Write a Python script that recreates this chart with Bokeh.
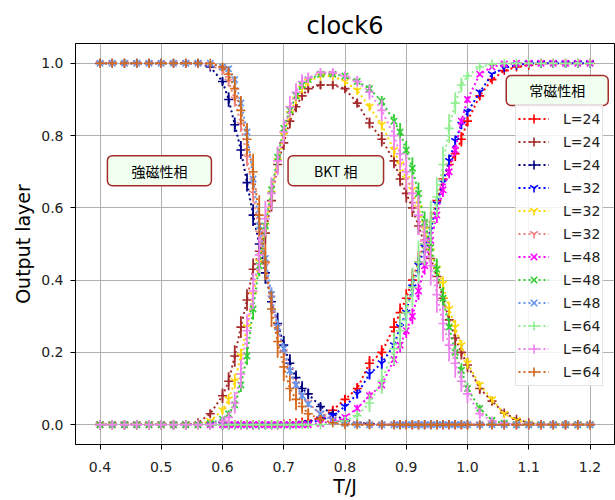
from bokeh.plotting import figure
from bokeh.models import (ColumnDataSource, Legend, LegendItem, Label, FixedTicker,
                          NumeralTickFormatter)
from bokeh.embed import file_html
from bokeh.resources import INLINE

# Temperature grid (T/J)
T = [0.40, 0.42, 0.44, 0.46, 0.48, 0.50, 0.52, 0.54, 0.56, 0.58,
     0.60, 0.61, 0.62, 0.63, 0.64, 0.65, 0.66, 0.67, 0.68, 0.69, 0.70, 0.71, 0.72, 0.73, 0.74,
     0.76, 0.78, 0.80, 0.82, 0.84, 0.86, 0.88,
     0.89, 0.90, 0.91, 0.92, 0.93, 0.94, 0.95, 0.96, 0.97, 0.98, 0.99, 1.00,
     1.02, 1.04, 1.06, 1.08, 1.10, 1.12, 1.14, 1.16, 1.18, 1.20]

# ---- L = 24 ----
y24_para = [0, 0, 0, 0, 0, 0, 0, 0, 0, 0,
            0, 0, 0, 0, 0, 0, 0, 0, 0, 0, 0.002, 0.003, 0.005, 0.007, 0.01,
            0.02, 0.04, 0.07, 0.10, 0.17, 0.20, 0.27,
            0.31, 0.35, 0.40, 0.45, 0.51, 0.56, 0.62, 0.68, 0.72, 0.75, 0.79, 0.84,
            0.91, 0.955, 0.98, 0.99, 0.995, 1.0, 1.0, 1.0, 1.0, 1.0]
e24_para = [0, 0, 0, 0, 0, 0, 0, 0, 0, 0,
            0, 0, 0, 0, 0, 0, 0, 0, 0, 0, 0.002, 0.002, 0.003, 0.004, 0.005,
            0.008, 0.01, 0.012, 0.015, 0.02, 0.02, 0.025,
            0.025, 0.025, 0.03, 0.03, 0.03, 0.03, 0.03, 0.025, 0.025, 0.02, 0.02, 0.015,
            0.01, 0.006, 0.004, 0.002, 0.001, 0, 0, 0, 0, 0]
y24_bkt = [0, 0, 0, 0, 0, 0, 0, 0, 0.005, 0.03,
           0.08, 0.12, 0.19, 0.27, 0.345, 0.43, 0.48, 0.53, 0.62, 0.72, 0.78, 0.84, 0.88, 0.91, 0.93,
           0.94, 0.94, 0.93, 0.89, 0.835, 0.79, 0.73,
           0.68, 0.64, 0.60, 0.55, 0.50, 0.46, 0.41, 0.35, 0.29, 0.24, 0.20, 0.165,
           0.10, 0.065, 0.032, 0.015, 0.005, 0, 0, 0, 0, 0]
e24_bkt = [0, 0, 0, 0, 0, 0, 0, 0, 0.005, 0.01,
           0.02, 0.025, 0.03, 0.03, 0.03, 0.03, 0.03, 0.03, 0.03, 0.025, 0.02, 0.02, 0.015, 0.012, 0.01,
           0.01, 0.01, 0.01, 0.012, 0.015, 0.02, 0.02,
           0.02, 0.025, 0.025, 0.025, 0.03, 0.03, 0.03, 0.03, 0.025, 0.025, 0.02, 0.02,
           0.015, 0.01, 0.008, 0.005, 0.002, 0, 0, 0, 0, 0]
y24_ferro = [1, 1, 1, 1, 1, 1, 1, 1, 1.0, 0.99,
             0.95, 0.90, 0.83, 0.76, 0.67, 0.58, 0.50, 0.42, 0.34, 0.28, 0.22, 0.17, 0.13, 0.10, 0.085,
             0.05, 0.03, 0.012, 0.005, 0.002, 0, 0,
             0, 0, 0, 0, 0, 0, 0, 0, 0, 0, 0, 0,
             0, 0, 0, 0, 0, 0, 0, 0, 0, 0]
e24_ferro = [0, 0, 0, 0, 0, 0, 0, 0, 0, 0.005,
             0.01, 0.02, 0.02, 0.025, 0.025, 0.03, 0.03, 0.03, 0.03, 0.03, 0.025, 0.025, 0.02, 0.02, 0.015,
             0.01, 0.008, 0.004, 0.002, 0, 0, 0,
             0, 0, 0, 0, 0, 0, 0, 0, 0, 0, 0, 0,
             0, 0, 0, 0, 0, 0, 0, 0, 0, 0]

# ---- L = 32 ----
y32_para = [0, 0, 0, 0, 0, 0, 0, 0, 0, 0,
            0, 0, 0, 0, 0, 0, 0, 0, 0, 0, 0, 0, 0.002, 0.003, 0.005,
            0.012, 0.025, 0.05, 0.085, 0.14, 0.17, 0.22,
            0.27, 0.31, 0.38, 0.44, 0.49, 0.54, 0.61, 0.67, 0.73, 0.785, 0.83, 0.865,
            0.92, 0.97, 0.987, 0.995, 1.0, 1.0, 1.0, 1.0, 1.0, 1.0]
e32_para = [0, 0, 0, 0, 0, 0, 0, 0, 0, 0,
            0, 0, 0, 0, 0, 0, 0, 0, 0, 0, 0, 0, 0.001, 0.002, 0.003,
            0.005, 0.008, 0.01, 0.012, 0.015, 0.018, 0.02,
            0.02, 0.022, 0.025, 0.025, 0.025, 0.025, 0.022, 0.02, 0.018, 0.015, 0.012, 0.01,
            0.008, 0.004, 0.002, 0.001, 0, 0, 0, 0, 0, 0]
y32_bkt = [0, 0, 0, 0, 0, 0, 0, 0, 0, 0.01,
           0.04, 0.07, 0.12, 0.19, 0.27, 0.36, 0.45, 0.55, 0.64, 0.73, 0.80, 0.86, 0.90, 0.93, 0.95,
           0.965, 0.965, 0.95, 0.925, 0.88, 0.83, 0.76,
           0.72, 0.68, 0.65, 0.60, 0.54, 0.48, 0.43, 0.39, 0.32, 0.27, 0.22, 0.17,
           0.11, 0.07, 0.03, 0.012, 0.004, 0, 0, 0, 0, 0]
e32_bkt = [0, 0, 0, 0, 0, 0, 0, 0, 0, 0.005,
           0.01, 0.015, 0.02, 0.02, 0.025, 0.025, 0.025, 0.025, 0.02, 0.02, 0.015, 0.012, 0.01, 0.008, 0.006,
           0.005, 0.005, 0.006, 0.008, 0.01, 0.015, 0.02,
           0.02, 0.02, 0.025, 0.025, 0.025, 0.025, 0.025, 0.02, 0.02, 0.02, 0.015, 0.015,
           0.01, 0.008, 0.005, 0.003, 0.001, 0, 0, 0, 0, 0]
y32_ferro = [1, 1, 1, 1, 1, 1, 1, 1, 1, 0.995,
             0.98, 0.95, 0.90, 0.83, 0.74, 0.64, 0.53, 0.44, 0.35, 0.27, 0.20, 0.15, 0.11, 0.08, 0.06,
             0.03, 0.015, 0.005, 0.002, 0, 0, 0,
             0, 0, 0, 0, 0, 0, 0, 0, 0, 0, 0, 0,
             0, 0, 0, 0, 0, 0, 0, 0, 0, 0]
e32_ferro = [0, 0, 0, 0, 0, 0, 0, 0, 0, 0.003,
             0.01, 0.015, 0.02, 0.02, 0.025, 0.025, 0.025, 0.025, 0.02, 0.02, 0.02, 0.015, 0.015, 0.01, 0.01,
             0.008, 0.005, 0.002, 0, 0, 0, 0,
             0, 0, 0, 0, 0, 0, 0, 0, 0, 0, 0, 0,
             0, 0, 0, 0, 0, 0, 0, 0, 0, 0]

# ---- L = 48 ----
y48_para = [0, 0, 0, 0, 0, 0, 0, 0, 0, 0,
            0, 0, 0, 0, 0, 0, 0, 0, 0, 0, 0, 0, 0, 0, 0,
            0.003, 0.01, 0.02, 0.045, 0.08, 0.11, 0.18,
            0.22, 0.26, 0.30, 0.37, 0.44, 0.51, 0.58, 0.65, 0.70, 0.76, 0.84, 0.90,
            0.97, 0.99, 0.998, 1.0, 1.0, 1.0, 1.0, 1.0, 1.0, 1.0]
e48_para = [0, 0, 0, 0, 0, 0, 0, 0, 0, 0,
            0, 0, 0, 0, 0, 0, 0, 0, 0, 0, 0, 0, 0, 0, 0,
            0.002, 0.004, 0.006, 0.01, 0.012, 0.015, 0.018,
            0.02, 0.02, 0.022, 0.025, 0.025, 0.025, 0.022, 0.02, 0.018, 0.015, 0.01, 0.008,
            0.004, 0.002, 0, 0, 0, 0, 0, 0, 0, 0]
y48_bkt = [0, 0, 0, 0, 0, 0, 0, 0, 0, 0.003,
           0.015, 0.03, 0.055, 0.11, 0.19, 0.32, 0.44, 0.55, 0.65, 0.74, 0.82, 0.87, 0.91, 0.94, 0.955,
           0.97, 0.97, 0.965, 0.95, 0.93, 0.895, 0.84,
           0.81, 0.76, 0.71, 0.64, 0.56, 0.49, 0.43, 0.35, 0.27, 0.20, 0.15, 0.10,
           0.045, 0.012, 0.004, 0, 0, 0, 0, 0, 0, 0]
e48_bkt = [0, 0, 0, 0, 0, 0, 0, 0, 0, 0.002,
           0.005, 0.01, 0.015, 0.02, 0.025, 0.03, 0.03, 0.03, 0.03, 0.025, 0.02, 0.015, 0.012, 0.01, 0.008,
           0.006, 0.006, 0.007, 0.01, 0.012, 0.015, 0.02,
           0.025, 0.025, 0.03, 0.03, 0.03, 0.03, 0.03, 0.03, 0.025, 0.02, 0.02, 0.015,
           0.01, 0.005, 0.002, 0, 0, 0, 0, 0, 0, 0]
y48_ferro = [1, 1, 1, 1, 1, 1, 1, 1, 1, 1,
             0.99, 0.985, 0.955, 0.89, 0.81, 0.68, 0.55, 0.46, 0.36, 0.27, 0.21, 0.15, 0.11, 0.08, 0.057,
             0.03, 0.012, 0.003, 0, 0, 0, 0,
             0, 0, 0, 0, 0, 0, 0, 0, 0, 0, 0, 0,
             0, 0, 0, 0, 0, 0, 0, 0, 0, 0]
e48_ferro = [0, 0, 0, 0, 0, 0, 0, 0, 0, 0,
             0.005, 0.008, 0.01, 0.015, 0.02, 0.02, 0.02, 0.02, 0.02, 0.02, 0.015, 0.015, 0.01, 0.01, 0.008,
             0.005, 0.003, 0, 0, 0, 0, 0,
             0, 0, 0, 0, 0, 0, 0, 0, 0, 0, 0, 0,
             0, 0, 0, 0, 0, 0, 0, 0, 0, 0]

# ---- L = 64 ----
y64_para = [0, 0, 0, 0, 0, 0, 0, 0, 0, 0,
            0, 0, 0, 0, 0, 0, 0, 0, 0, 0, 0, 0, 0, 0, 0,
            0, 0.005, 0.01, 0.025, 0.06, 0.12, 0.21,
            0.26, 0.31, 0.38, 0.45, 0.50, 0.56, 0.63, 0.72, 0.82, 0.89, 0.94, 0.965,
            0.99, 0.998, 1.0, 1.0, 1.0, 1.0, 1.0, 1.0, 1.0, 1.0]
e64_para = [0, 0, 0, 0, 0, 0, 0, 0, 0, 0,
            0, 0, 0, 0, 0, 0, 0, 0, 0, 0, 0, 0, 0, 0, 0,
            0.002, 0.005, 0.01, 0.015, 0.025, 0.035, 0.045,
            0.05, 0.05, 0.055, 0.06, 0.06, 0.06, 0.055, 0.05, 0.04, 0.03, 0.02, 0.012,
            0.005, 0.002, 0, 0, 0, 0, 0, 0, 0, 0]
y64_bkt = [0, 0, 0, 0, 0, 0, 0, 0, 0, 0,
           0.01, 0.02, 0.06, 0.14, 0.26, 0.37, 0.47, 0.57, 0.64, 0.73, 0.81, 0.88, 0.92, 0.95, 0.96,
           0.975, 0.975, 0.965, 0.95, 0.92, 0.87, 0.80,
           0.75, 0.70, 0.64, 0.58, 0.51, 0.44, 0.36, 0.28, 0.22, 0.17, 0.12, 0.085,
           0.03, 0.01, 0.003, 0, 0, 0, 0, 0, 0, 0]
e64_bkt = [0, 0, 0, 0, 0, 0, 0, 0, 0, 0,
           0.01, 0.015, 0.03, 0.04, 0.045, 0.05, 0.05, 0.05, 0.045, 0.04, 0.035, 0.03, 0.025, 0.02, 0.015,
           0.01, 0.01, 0.012, 0.015, 0.02, 0.03, 0.04,
           0.045, 0.05, 0.05, 0.055, 0.055, 0.055, 0.05, 0.05, 0.045, 0.04, 0.03, 0.025,
           0.015, 0.008, 0.003, 0, 0, 0, 0, 0, 0, 0]
y64_ferro = [1, 1, 1, 1, 1, 1, 1, 1, 1, 1,
             0.99, 0.97, 0.93, 0.87, 0.79, 0.70, 0.58, 0.45, 0.32, 0.23, 0.16, 0.10, 0.07, 0.05, 0.03,
             0.015, 0.005, 0, 0, 0, 0, 0,
             0, 0, 0, 0, 0, 0, 0, 0, 0, 0, 0, 0,
             0, 0, 0, 0, 0, 0, 0, 0, 0, 0]
e64_ferro = [0, 0, 0, 0, 0, 0, 0, 0, 0, 0,
             0.01, 0.02, 0.035, 0.04, 0.045, 0.05, 0.055, 0.05, 0.05, 0.045, 0.04, 0.035, 0.03, 0.02, 0.015,
             0.01, 0.005, 0, 0, 0, 0, 0,
             0, 0, 0, 0, 0, 0, 0, 0, 0, 0, 0, 0,
             0, 0, 0, 0, 0, 0, 0, 0, 0, 0]

labels = ["L=24", "L=24", "L=24", "L=32", "L=32", "L=32",
          "L=48", "L=48", "L=48", "L=64", "L=64", "L=64"]
colors = ["red", "brown", "navy", "blue", "gold", "lightcoral",
          "magenta", "limegreen", "cornflowerblue", "lightgreen", "violet", "chocolate"]
markers = ["cross", "cross", "cross", "y", "y", "y",
           "x", "x", "x", "cross", "cross", "cross"]
ys = [y24_para, y24_bkt, y24_ferro, y32_para, y32_bkt, y32_ferro,
      y48_para, y48_bkt, y48_ferro, y64_para, y64_bkt, y64_ferro]
errs = [e24_para, e24_bkt, e24_ferro, e32_para, e32_bkt, e32_ferro,
        e48_para, e48_bkt, e48_ferro, e64_para, e64_bkt, e64_ferro]

FONT = "DejaVu Sans"
CJK = "Noto Sans CJK JP"

p = figure(width=615, height=500, x_range=(0.36, 1.24), y_range=(-0.055, 1.055),
           output_backend="svg", toolbar_location=None,
           min_border_left=75, min_border_right=1, min_border_top=43, min_border_bottom=56)

p.title.text = "clock6"
p.title.align = "center"
p.title.text_font = FONT
p.title.text_font_size = "24px"
p.title.text_font_style = "normal"
p.title.text_color = "black"
p.title.standoff = 7

p.background_fill_color = "white"
p.border_fill_color = "white"
p.outline_line_color = "black"
p.outline_line_width = 1
p.outline_line_alpha = 1

p.xaxis.ticker = FixedTicker(ticks=[0.4, 0.5, 0.6, 0.7, 0.8, 0.9, 1.0, 1.1, 1.2])
p.yaxis.ticker = FixedTicker(ticks=[0.0, 0.2, 0.4, 0.6, 0.8, 1.0])
for ax in (p.xaxis, p.yaxis):
    ax.formatter = NumeralTickFormatter(format="0.0")
    ax.minor_tick_line_color = None
    ax.major_tick_in = 0
    ax.major_tick_out = 5
    ax.major_tick_line_color = "black"
    ax.axis_line_color = "black"
    ax.major_label_text_font = FONT
    ax.major_label_text_font_size = "14px"
    ax.major_label_text_color = "#222222"
    ax.axis_label_text_font = FONT
    ax.axis_label_text_font_size = "19px"
    ax.axis_label_text_font_style = "normal"
    ax.axis_label_text_color = "black"
p.xaxis.axis_label = "T/J"
p.yaxis.axis_label = "Output layer"
p.xaxis.major_label_standoff = 12
p.yaxis.major_label_standoff = 7
p.xaxis.axis_label_standoff = 0
p.yaxis.axis_label_standoff = 4

p.grid.grid_line_color = "#b0b0b0"
p.grid.grid_line_width = 1

items = []
for lab, col, mk, y, e in zip(labels, colors, markers, ys, errs):
    src = ColumnDataSource(dict(x=T, y=y,
                                lo=[a - b for a, b in zip(y, e)],
                                hi=[a + b for a, b in zip(y, e)]))
    lr = p.line("x", "y", source=src, line_color=col, line_width=2, line_dash="2 3")
    p.segment(x0="x", y0="lo", x1="x", y1="hi", source=src, line_color=col, line_width=1.8)
    sr = p.scatter("x", "y", source=src, marker=mk, size=9, line_color=col,
                   fill_color=None, line_width=1.6)
    items.append(LegendItem(label=lab, renderers=[lr, sr]))

legend = Legend(items=items, location=(440, 58), margin=0, padding=2, spacing=0,
                label_height=23, glyph_height=23, glyph_width=31, label_standoff=14,
                label_text_font=FONT, label_text_font_size="14px", label_text_color="#222222",
                background_fill_color="white", background_fill_alpha=0.85,
                border_line_color="#cccccc", border_line_width=1)
p.add_layout(legend)

box_style = dict(text_align="center", text_baseline="middle", text_font=CJK,
                 text_font_size="14px", text_color="black",
                 background_fill_color="honeydew", background_fill_alpha=1.0,
                 border_line_color="brown", border_line_width=1.5, border_radius=5)
p.add_layout(Label(x=0.497, y=0.703, text="強磁性相",
                   padding=dict(left=24, right=24, top=5, bottom=5), **box_style))
p.add_layout(Label(x=0.785, y=0.703, text="BKT 相",
                   padding=dict(left=26, right=26, top=5, bottom=5), **box_style))
p.add_layout(Label(x=1.1465, y=0.925, text="常磁性相",
                   padding=dict(left=23, right=23, top=5, bottom=5), **box_style))

open("out.html", "w").write(file_html(p, INLINE))
